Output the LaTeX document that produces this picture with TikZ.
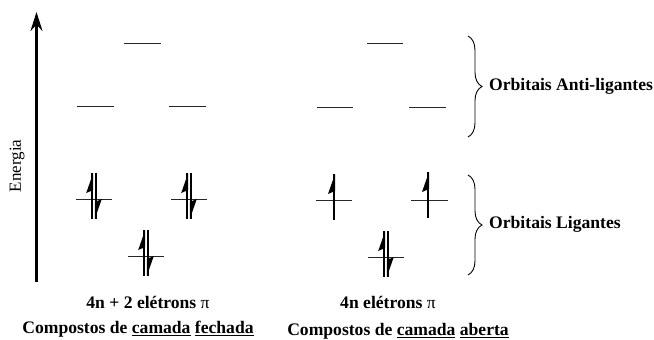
\documentclass[tikz,border=0pt]{standalone}
\usepackage{fontspec}
\setmainfont{Liberation Serif}
\usetikzlibrary{arrows.meta,decorations.pathreplacing}
\tikzset{
    level/.style={inner sep=0pt,minimum width=36pt,minimum height=0pt},
    levelline/.style={line width=1pt,black!85},
    spinline/.style={line width=2.1pt},
    label/.style={font=\bfseries\fontsize{17.6}{20}\selectfont,inner sep=0pt},
    bracket/.style={line width=.9pt,decorate,decoration={brace,amplitude=14pt}},
    pics/spinup/.style={code={
        \draw[spinline] (0,-26) -- (0,20);
        \fill (1,-26) -- (-6,-6) -- (1,-9) -- cycle;
    }},
    pics/spindown/.style={code={
        \draw[spinline] (0,-26) -- (0,20);
        \fill (-1,20) -- (6,0) -- (-1,3) -- cycle;
    }},
}
\newcommand{\pairspin}[1]{
    \path (#1) ++(-1.8,0) pic {spinup};
    \path (#1) ++(1.8,0) pic {spindown};
}
\begin{document}
\begin{tikzpicture}[x=1pt,y=-1pt]
    \useasboundingbox (0,0) rectangle (654,340);

    % energy axis
    \coordinate (axisbottom) at (36.5,282);
    \coordinate (axistop) at (36.5,12);
    \draw[line width=2.2pt,-{Stealth[length=19pt,width=12pt]}] (axisbottom) -- (axistop);
    \node[rotate=90,inner sep=0pt,font=\fontsize{17}{20}\selectfont] (energia) at (17,166) {Energia};

    % closed shell
    \node[level] (a1) at (142.5,43) {};
    \node[level] (a2) at (95.5,106) {};
    \node[level] (a3) at (187.5,106) {};
    \node[level] (a4) at (94,199) {};
    \node[level] (a5) at (189,199) {};
    \node[level] (a6) at (146,256) {};

    \draw[levelline] (a1.west) -- (a1.east);
    \draw[levelline] (a2.west) -- (a2.east);
    \draw[levelline] (a3.west) -- (a3.east);
    \draw[levelline] (a4.west) -- (a4.east);
    \draw[levelline] (a5.west) -- (a5.east);
    \draw[levelline] (a6.west) -- (a6.east);

    \pairspin{a4}
    \pairspin{a5}
    \pairspin{a6}

    % open shell
    \node[level] (b1) at (385,43) {};
    \node[level] (b2) at (335,107) {};
    \node[level] (b3) at (427.5,107) {};
    \node[level] (b4) at (334,200) {};
    \node[level] (b5) at (429.5,200) {};
    \node[level] (b6) at (386,257) {};

    \draw[levelline] (b1.west) -- (b1.east);
    \draw[levelline] (b2.west) -- (b2.east);
    \draw[levelline] (b3.west) -- (b3.east);
    \draw[levelline] (b4.west) -- (b4.east);
    \draw[levelline] (b5.west) -- (b5.east);
    \draw[levelline] (b6.west) -- (b6.east);

    \path (b4) pic {spinup};
    \path (b5) ++(-1.5,-2) pic {spinup};
    \pairspin{b6}

    % brackets
    \coordinate (anti1) at (468,36);
    \coordinate (anti2) at (468,137);
    \coordinate (lig1) at (468,175);
    \coordinate (lig2) at (468,275);
    \draw[bracket] (anti1) -- (anti2);
    \draw[bracket] (lig1) -- (lig2);

    \node[label,anchor=west] (antilabel) at (489,86) {Orbitais Anti-ligantes};
    \node[label,anchor=west] (liglabel) at (489,224) {Orbitais Ligantes};

    % captions
    \node[label] (counta) at (148,302) {4n + 2 elétrons \textnormal{π}};
    \node[label] (countb) at (388,302) {4n elétrons \textnormal{π}};
    \node[label] (shella) at (138,329) {Compostos de \underline{camada} \underline{fechada}};
    \node[label] (shellb) at (398,331) {Compostos de \underline{camada} \underline{aberta}};
\end{tikzpicture}
\end{document}
